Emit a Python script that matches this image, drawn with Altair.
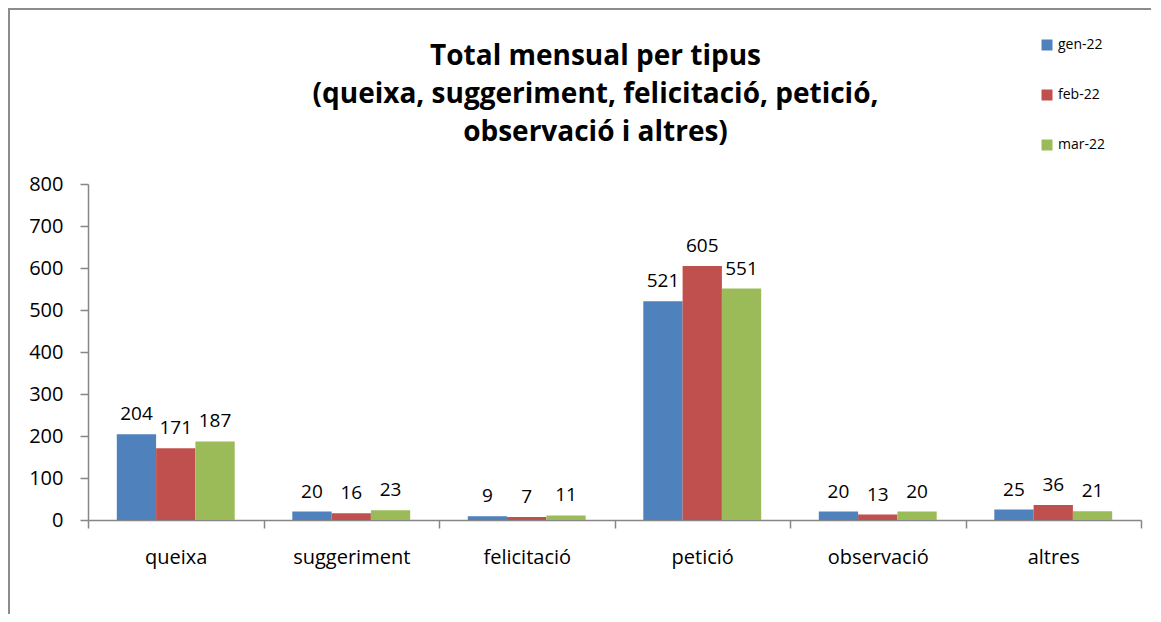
import altair as alt
import pandas as pd

categories = ["queixa", "suggeriment", "felicitació", "petició", "observació", "altres"]
months = ["gen-22", "feb-22", "mar-22"]
gen22 = [204, 20, 9, 521, 20, 25]
feb22 = [171, 16, 7, 605, 13, 36]
mar22 = [187, 23, 11, 551, 20, 21]
colors = ["#4F81BD", "#C0504D", "#9BBB59"]
title_lines = ["Total mensual per tipus", "(queixa, suggeriment, felicitació, petició,", "observació i altres)"]

rows = []
for m, vals in zip(months, [gen22, feb22, mar22]):
    for c, v in zip(categories, vals):
        rows.append({"tipus": c, "mes": m, "valor": v})
df = pd.DataFrame(rows)

W, H = 1053, 336
FONT = "Open Sans"
AXC = "#868686"

x = alt.X("tipus:N", sort=categories,
          scale=alt.Scale(paddingInner=0, paddingOuter=0),
          axis=alt.Axis(title=None, labelAngle=0, tickBand="extent", tickSize=8,
                        labelPadding=19, labelFontSize=20, labelColor="black",
                        domainColor=AXC, tickColor=AXC, domainWidth=1.5, tickWidth=1.5,
                        labelFont=FONT))
xo = alt.XOffset("mes:N", sort=months, scale=alt.Scale(paddingInner=0, paddingOuter=0.733))
y = alt.Y("valor:Q", scale=alt.Scale(domain=[0, 800], nice=False),
          axis=alt.Axis(title=None, values=list(range(0, 801, 100)), grid=False, tickSize=8,
                        labelPadding=17, labelFontSize=20, labelColor="black",
                        domainColor=AXC, tickColor=AXC, domainWidth=1.5, tickWidth=1.5,
                        labelFont=FONT))
color = alt.Color("mes:N", sort=months, scale=alt.Scale(domain=months, range=colors),
                  legend=alt.Legend(title=None, orient="none", legendX=952, legendY=-146,
                                    symbolType="square", symbolSize=121, symbolStrokeWidth=0,
                                    labelFontSize=14, rowPadding=36, labelOffset=4,
                                    labelFont=FONT, labelColor="black"))

bars = alt.Chart(df).mark_bar().encode(x=x, xOffset=xo, y=y, color=color)
labels = alt.Chart(df).mark_text(baseline="alphabetic", dy=-14, fontSize=19, font=FONT,
                                 color="black").encode(
    x=alt.X("tipus:N", sort=categories),
    xOffset=alt.XOffset("mes:N", sort=months),
    y="valor:Q",
    text="valor:Q",
)

frame_df = pd.DataFrame({"a": [0]})
left_border = alt.Chart(frame_df).mark_rule(color="#8c8c8c", strokeWidth=2).encode(
    x=alt.value(-79), y=alt.value(-175), y2=alt.value(430))
top_border = alt.Chart(frame_df).mark_rule(color="#8c8c8c", strokeWidth=2).encode(
    x=alt.value(-80), x2=alt.value(1063), y=alt.value(-175))

chart = alt.layer(bars, labels, left_border, top_border).properties(
    width=W, height=H,
    autosize=alt.AutoSizeParams(type="none"),
    padding={"left": 80, "top": 176, "right": 10, "bottom": 94},
    title=alt.Title(title_lines, fontSize=28, font=FONT, fontWeight="bold", anchor="middle",
                    dx=-19, offset=0, dy=139, lineHeight=38, color="black"),
    background="white",
).configure_view(stroke=None)

chart.save("out.html", embed_options={"renderer": "svg", "actions": False})
